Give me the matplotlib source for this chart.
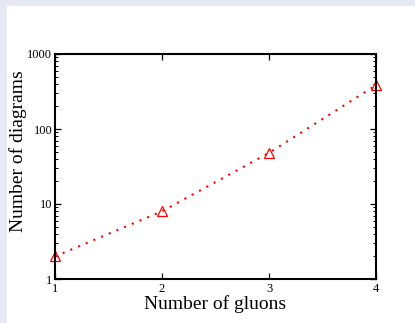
import matplotlib
matplotlib.use("Agg")
import matplotlib.pyplot as plt
from matplotlib.patches import Rectangle
from matplotlib.ticker import LogLocator, NullFormatter, FixedLocator

gluons = [1, 2, 3, 4]
diagrams = [2, 8, 48, 384]
x_ticks = [1, 2, 3, 4]
y_ticks = [1, 10, 100, 1000]
y_tick_labels = ["1", "10", "100", "1000"]

plt.rcParams.update({"font.family": "Liberation Serif", "mathtext.fontset": "stix"})

W, H = 415, 323
fig = plt.figure(figsize=(W / 100, H / 100), dpi=100, facecolor="#e8e8f4")
fig.patches.append(Rectangle((7 / W, 0), 1, 1 - 6 / H, transform=fig.transFigure,
                             facecolor="white", edgecolor="none", zorder=-1))
ax = fig.add_axes([55 / W, 1 - 279 / H, (376 - 55) / W, (279 - 54) / H])

ax.plot(gluons, diagrams, color="red", linestyle=(0, (1, 3)), linewidth=1.5,
        marker="^", markersize=7, markerfacecolor="none", markeredgecolor="red",
        markeredgewidth=0.9, clip_on=False)

ax.set_yscale("log")
ax.set_xlim(1, 4)
ax.set_ylim(1, 1000)
ax.xaxis.set_major_locator(FixedLocator(x_ticks))
ax.set_xticklabels([str(v) for v in x_ticks])
ax.set_yticks(y_ticks)
ax.set_yticklabels(y_tick_labels)
ax.yaxis.set_minor_locator(LogLocator(base=10, subs=range(2, 10)))
ax.yaxis.set_minor_formatter(NullFormatter())

ax.tick_params(which="major", direction="in", length=4, width=0.9, top=True, right=True,
               labelsize=9, pad=3)
ax.tick_params(which="minor", direction="in", length=2, width=0.7, right=True)
ax.tick_params(axis="y", pad=2)
for s in ax.spines.values():
    s.set_linewidth(1.5)

ax.set_xlabel("Number of gluons", fontsize=14, labelpad=0)
ax.set_ylabel("Number of diagrams", fontsize=14, labelpad=0)
ax.yaxis.label.set_y(0.57)

fig.savefig("out.png", dpi=100, facecolor=fig.get_facecolor())
